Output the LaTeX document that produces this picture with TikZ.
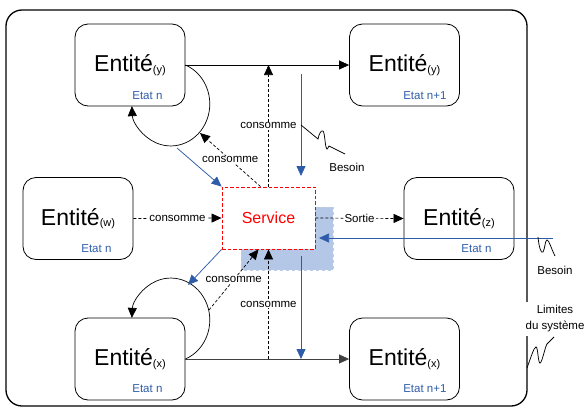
\documentclass[tikz,border=0pt]{standalone}
\usepackage{fontspec}
\setmainfont{Liberation Sans}
\usetikzlibrary{arrows.meta,calc}
\definecolor{bleu}{RGB}{46,92,168}
\definecolor{ombre}{RGB}{180,199,231}
\newcommand{\entite}[1]{Entité\raisebox{-1.5pt}{\fontsize{11}{11}\selectfont(#1)}}
\tikzset{ent/.style={draw,rounded corners=13pt,minimum width=110pt,minimum height=82pt,
           line width=.8pt,font=\fontsize{23}{26}\selectfont},
         srvbox/.style={draw=red,dash pattern=on 3.5pt off 2pt,fill=white,line width=.9pt,
           minimum width=93pt,minimum height=62pt,text=red,font=\fontsize{16}{18}\selectfont},
         etat/.style={text=bleu,inner sep=0pt,font=\fontsize{11.5}{13}\selectfont},
         txt/.style={inner sep=1pt,font=\fontsize{11.5}{13}\selectfont},
         lbl/.style={txt,fill=white},
         fl/.style={-{Triangle[length=10pt,width=9pt]},line width=.7pt},
         pfl/.style={fl,dash pattern=on 3pt off 2pt},
         bfl/.style={-{Triangle[length=10pt,width=9pt]},line width=.75pt,bleu},
         zz/.style={line width=.75pt}}
\begin{document}
\begin{tikzpicture}[x=1pt,y=1pt]
  \useasboundingbox (0,0) rectangle (586,-407);
  \draw[line width=1.3pt,rounded corners=16pt] (6,-10) rectangle (527,-406);
  \filldraw[fill=ombre,draw=bleu!30,dashed] (241,-207) rectangle (333,-270);
  % entites
  \node[ent] (yn) at (130,-65) {\entite{y}};
  \node[ent] (yn1) at (404.5,-65) {\entite{y}};
  \node[ent] (w) at (78,-218.5) {\entite{w}};
  \node[ent] (z) at (459,-218.5) {\entite{z}};
  \node[ent] (xn) at (130,-359) {\entite{x}};
  \node[ent] (xn1) at (404.5,-359) {\entite{x}};
  \node[etat] (yn-e) at ([xshift=-38pt,yshift=11pt]yn.south east) {Etat n};
  \node[etat] (yn1-e) at ([xshift=-35pt,yshift=11pt]yn1.south east) {Etat n+1};
  \node[etat] (w-e) at ([xshift=-37pt,yshift=11pt]w.south east) {Etat n};
  \node[etat] (z-e) at ([xshift=-38pt,yshift=11pt]z.south east) {Etat n};
  \node[etat] (xn-e) at ([xshift=-38pt,yshift=12pt]xn.south east) {Etat n};
  \node[etat] (xn1-e) at ([xshift=-35pt,yshift=12pt]xn1.south east) {Etat n+1};
  \node[srvbox] (srv) at (268.5,-218) {Service};
  \coordinate (ylp) at (200,-133); \coordinate (xlp) at (209,-310);
  \coordinate (yb) at (177,-148); \coordinate (xb) at (188,-285);
  \coordinate (b1) at (301,-74); \coordinate (b2) at (301,-176);
  \coordinate (b3) at (301,-256);
  \coordinate (b4) at (553,-238); \coordinate (b5) at (319,-238);
  % transitions
  \draw[fl] (yn.east) -- (yn1.west);
  \draw[fl,black!75] (xn.east) -- (xn1.west);
  \draw[fl] (yn.east) arc[start angle=68,end angle=-177,x radius=39,y radius=42];
  \draw[fl] (xn.east) arc[start angle=-68,end angle=177,x radius=39,y radius=42];
  % consommations
  \draw[pfl] (srv.north) -- (srv.north |- yn.east) node[lbl,midway] {consomme};
  \draw[pfl] (srv.south |- xn.east) -- (srv.south) node[lbl,midway] {consomme};
  \draw[pfl] (w.east) -- (srv.west) node[lbl,midway] {consomme};
  \draw[pfl] (srv.east) -- (z.west) node[lbl,midway] {Sortie};
  \draw[pfl] ([xshift=-8pt]srv.north) -- (ylp) node[lbl,midway] {consomme};
  \draw[pfl] (xlp) -- ([xshift=-10pt]srv.south) node[lbl,midway] {consomme};
  % besoins
  \draw[bfl] (yb) -- (srv.north west);
  \draw[bfl] (srv.south west) -- (xb);
  \draw[bfl] (b1) -- (b2);
  \draw[bfl] (b3) -- (b3 |- xn.east);
  \draw[bfl] (b4) -- (b5);
  \draw[zz] (301,-125) -- (318,-139) .. controls (319,-134) and (321,-130) .. (323,-131)
    .. controls (325,-133) and (325,-148) .. (327,-149)
    .. controls (328,-149) and (328,-147) .. (329,-146) -- (345,-154);
  \draw[zz] (538,-237) .. controls (539,-247) and (541,-254) .. (543,-252)
    .. controls (545,-249) and (545,-240) .. (547,-240)
    .. controls (549,-240) and (551,-248) .. (555,-256);
  \draw[zz] (527,-368) .. controls (531,-357) and (534,-347) .. (536,-347)
    .. controls (538,-347) and (538,-363) .. (540,-363)
    .. controls (542,-363) and (545,-347) .. (547,-344) -- (554,-337);
  \node[txt] (bes1) at (347,-167) {Besoin};
  \node[txt] (bes2) at (555,-270) {Besoin};
  \node[lbl,inner sep=4pt,align=center,font=\fontsize{11.5}{16}\selectfont] (lim)
    at (555,-319) {Limites\\du système};
\end{tikzpicture}
\end{document}
